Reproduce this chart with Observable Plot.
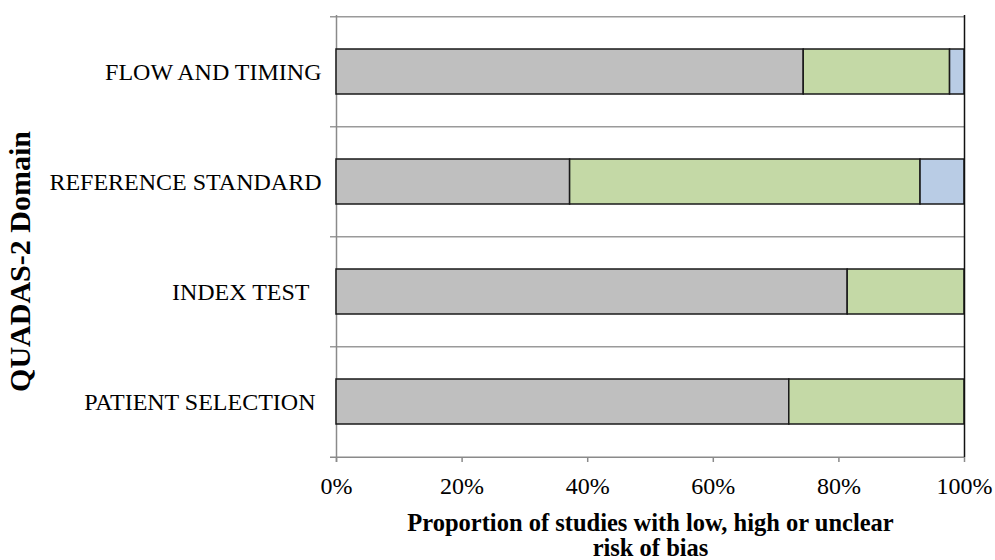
<!DOCTYPE html>
<html>
<head>
<meta charset="utf-8">
<script src="https://cdn.jsdelivr.net/npm/d3@7"></script>
<script src="https://cdn.jsdelivr.net/npm/@observablehq/plot@0.6"></script>
<style>
  html, body { margin: 0; padding: 0; background: #fff; }
</style>
</head>
<body>
<div id="chart"></div>
<script>
// Categories (top to bottom); trailing spaces mirror the source labels
const categories = ["FLOW AND TIMING", "REFERENCE STANDARD", "INDEX TEST  ", "PATIENT SELECTION "];
// Series (left to right in each bar)
const seriesNames = ["Low", "High", "Unclear"];
const lowValues = [0.744, 0.372, 0.814, 0.721];
const highValues = [0.233, 0.558, 0.186, 0.279];
const unclearValues = [0.023, 0.070, 0, 0];
const seriesColors = ["#bfbfbf", "#c4d9a6", "#b9cce5"];
const xTicks = [0, 0.2, 0.4, 0.6, 0.8, 1];
const yTitle = "QUADAS-2 Domain";
const xTitleLines = ["Proportion of studies with low, high or unclear", "risk of bias"];

const seriesValues = [lowValues, highValues, unclearValues];
const rows = [];
categories.forEach((c, i) => {
  seriesNames.forEach((s, j) => {
    const v = seriesValues[j][i];
    if (v > 0) rows.push({domain: c, risk: s, value: v});
  });
});

const W = 995, H = 560;
const mL = 336, mR = 31, mT = 15, mB = 103;
const step = (H - mT - mB) / categories.length;
const labelOf = (d) => d.trimEnd() + "\u00a0".repeat(d.length - d.trimEnd().length);

const chart = Plot.plot({
  width: W,
  height: H,
  marginLeft: mL,
  marginRight: mR,
  marginTop: mT,
  marginBottom: mB,
  style: {fontFamily: "'Liberation Serif', 'Times New Roman', serif", fontSize: "24px", background: "#fff", color: "#000"},
  x: {domain: [0, 1], axis: null},
  y: {domain: categories, paddingInner: 0.593, paddingOuter: 0.2965, axis: null},
  color: {domain: seriesNames, range: seriesColors},
  marks: [
    // band separator gridlines (with left tick stubs)
    Plot.ruleY(categories, {y: d => d, dy: -step / 2, stroke: "#9a9a9a", strokeWidth: 1.5, x1: 0, x2: 1, insetLeft: -6}),
    Plot.ruleY(categories.slice(-1), {y: d => d, dy: step / 2, stroke: "#8a8a8a", strokeWidth: 1.5, x1: 0, x2: 1, insetLeft: -6}),
    // left axis line
    Plot.ruleX([0], {stroke: "#8a8a8a", strokeWidth: 1.5, insetBottom: -5}),
    // stacked bars
    Plot.barX(rows, Plot.stackX({
      y: "domain", x: "value", fill: "risk", order: seriesNames,
      stroke: "#1a1a1a", strokeWidth: 1.5
    })),
    // right edge line
    Plot.ruleX([1], {stroke: "#111", strokeWidth: 1.5}),
    // x axis
    Plot.axisX({ticks: xTicks, tickFormat: d3.format(".0%"), tickSize: 5, tickPadding: 14,
      stroke: "#8a8a8a", strokeWidth: 1.5, fontSize: 24, fill: "#000", label: null}),
    // y category labels
    Plot.axisY({tickSize: 0, tickPadding: 15, fontSize: 24, fill: "#000", label: null,
      tickFormat: labelOf}),
    // y title
    Plot.text([yTitle], {frameAnchor: "left", textAnchor: "middle", text: d => d, rotate: -90, dx: -316, dy: 25,
      fontWeight: "bold", fontSize: 30, fill: "#000"}),
    // x title (two lines)
    Plot.text([xTitleLines[0]], {frameAnchor: "bottom", textAnchor: "middle", text: d => d, dy: 66, lineAnchor: "middle",
      fontWeight: "bold", fontSize: 24.5, fill: "#000"}),
    Plot.text([xTitleLines[1]], {frameAnchor: "bottom", textAnchor: "middle", text: d => d, dy: 91, lineAnchor: "middle",
      fontWeight: "bold", fontSize: 24.5, fill: "#000"})
  ]
});
document.getElementById("chart").appendChild(chart);
</script>
</body>
</html>
